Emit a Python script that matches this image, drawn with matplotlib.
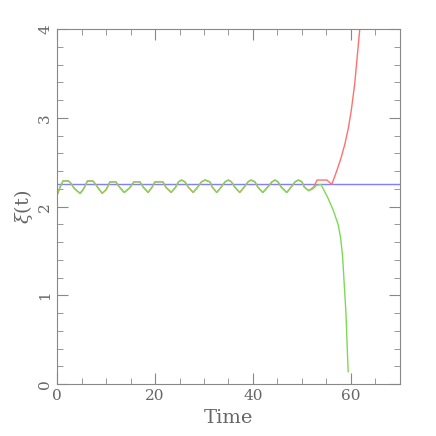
import matplotlib
matplotlib.use('Agg')
import matplotlib.pyplot as plt
import numpy as np
from matplotlib.ticker import MultipleLocator

plt.rcParams['mathtext.fontset'] = 'dejavuserif'

# shared oscillation (both runs agree up to t ~ 51)
osc_t = [0, 0.6, 1.2, 2.3, 2.7, 3.6, 4.7, 5.4, 6.2, 7.3, 8.0, 9.2, 10.0, 10.8,
         12.0, 12.6, 13.7, 14.8, 15.7, 16.9, 17.6, 18.6, 19.4, 20.0, 21.6, 22.2,
         23.3, 24.2, 24.8, 25.4, 26.1, 26.8, 27.8, 28.7, 29.5, 30.2, 31.2, 31.7,
         32.6, 33.5, 34.3, 35.0, 35.6, 36.3, 37.3, 38.2, 39.0, 39.6, 40.4, 41.0,
         42.0, 43.0, 43.9, 44.5, 45.1, 45.8, 46.9, 47.8, 48.6, 49.3, 50.0, 50.5,
         51.4]
osc_y = [2.13, 2.22, 2.29, 2.29, 2.27, 2.20, 2.15, 2.20, 2.29, 2.29, 2.24, 2.15,
         2.19, 2.28, 2.28, 2.23, 2.16, 2.21, 2.28, 2.28, 2.22, 2.16, 2.22, 2.28,
         2.28, 2.22, 2.16, 2.22, 2.28, 2.30, 2.28, 2.22, 2.16, 2.22, 2.28, 2.30,
         2.28, 2.22, 2.16, 2.22, 2.28, 2.30, 2.28, 2.22, 2.16, 2.22, 2.28, 2.30,
         2.28, 2.22, 2.16, 2.22, 2.28, 2.30, 2.28, 2.22, 2.16, 2.22, 2.28, 2.30,
         2.28, 2.22, 2.18]

red_tail_t = [52.4, 53.1, 55.1, 56.1, 57.1, 58.0, 58.8, 59.5, 60.1, 60.8, 61.3, 61.8, 62.0]
red_tail_y = [2.22, 2.30, 2.30, 2.25, 2.40, 2.55, 2.71, 2.89, 3.09, 3.39, 3.69, 3.99, 4.10]

green_tail_t = [52.2, 53.0, 53.9, 55.3, 56.4, 57.4, 57.9, 58.3, 58.6, 59.0, 59.25, 59.45]
green_tail_y = [2.20, 2.24, 2.25, 2.10, 1.96, 1.80, 1.65, 1.45, 1.17, 0.80, 0.42, 0.14]

xi_fixed = 2.25

fig = plt.figure(figsize=(4.36, 4.36), dpi=100)
ax = fig.add_axes([0.131, 0.119, 0.786, 0.814])

ax.axhline(xi_fixed, color='#7f7fff', lw=1)
ax.plot(osc_t + red_tail_t, osc_y + red_tail_y, color='#ff7070', lw=1)
ax.plot(osc_t + green_tail_t, osc_y + green_tail_y, color='#7ed957', lw=1)

ax.set_xlim(0, 70)
ax.set_ylim(0, 4)
ax.xaxis.set_major_locator(MultipleLocator(20))
ax.xaxis.set_minor_locator(MultipleLocator(5))
ax.yaxis.set_major_locator(MultipleLocator(1))
ax.yaxis.set_minor_locator(MultipleLocator(0.2))
ax.tick_params(which='both', direction='in', top=True, right=True,
               color='#888888', labelcolor='#666666', labelsize=11)
ax.tick_params(which='major', length=8)
ax.tick_params(which='minor', length=4)
for lab in ax.get_xticklabels() + ax.get_yticklabels():
    lab.set_family('DejaVu Serif')
for lab in ax.get_yticklabels():
    lab.set_rotation(90)
    lab.set_va('center')
for s in ax.spines.values():
    s.set_color('#888888')

ax.set_xlabel('Time', family='DejaVu Serif', fontsize=14, color='#666666')
ax.set_ylabel(r'$\xi$(t)', family='DejaVu Serif', fontsize=14, color='#666666',
              labelpad=2)

plt.savefig('out.png', dpi=100)
